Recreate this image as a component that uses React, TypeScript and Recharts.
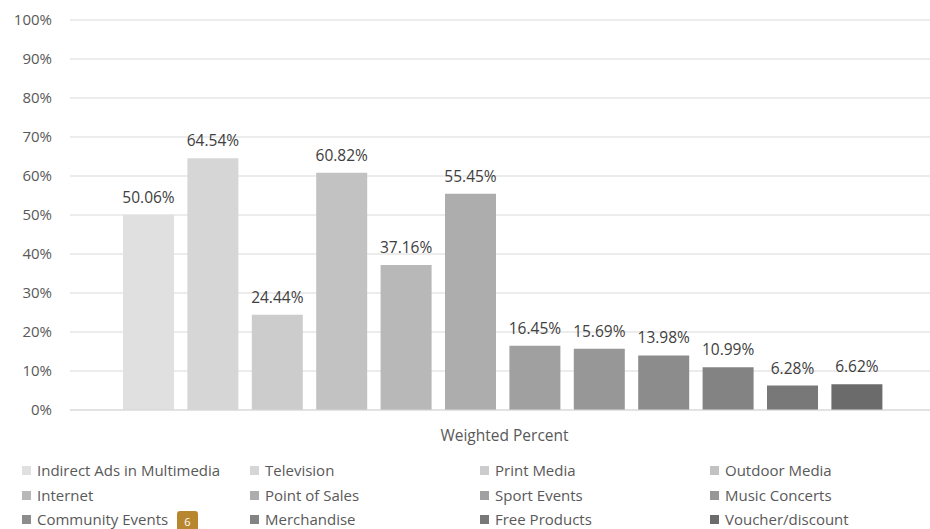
import { Bar, BarChart, CartesianGrid, LabelList, XAxis, YAxis } from "recharts";

const CATEGORIES = ["Weighted Percent"];

const SERIES_NAMES = [
  "Indirect Ads in Multimedia",
  "Television",
  "Print Media",
  "Outdoor Media",
  "Internet",
  "Point of Sales",
  "Sport Events",
  "Music Concerts",
  "Community Events",
  "Merchandise",
  "Free Products",
  "Voucher/discount",
];

const SERIES_VALUES = [50.06, 64.54, 24.44, 60.82, 37.16, 55.45, 16.45, 15.69, 13.98, 10.99, 6.28, 6.62];

const SERIES_COLORS = [
  "#e0e0e0",
  "#d6d6d6",
  "#cccccc",
  "#c2c2c2",
  "#b8b8b8",
  "#adadad",
  "#a0a0a0",
  "#979797",
  "#8c8c8c",
  "#838383",
  "#787878",
  "#6b6b6b",
];

const Y_TICKS = [0, 10, 20, 30, 40, 50, 60, 70, 80, 90, 100];

// legend is laid out like Excel's: 4 fixed columns, 3 rows
const LEGEND_COLS = [22, 250, 480, 710];
const LEGEND_ROWS = [470, 495, 519];

const FONT = "'Open Sans', sans-serif";
const TEXT = "#595959";

export default function App() {
  const data = CATEGORIES.map((c) => {
    const row: Record<string, string | number> = { name: c };
    SERIES_NAMES.forEach((s, i) => {
      row[s] = SERIES_VALUES[i];
    });
    return row;
  });

  return (
    <div
      style={{
        position: "fixed",
        left: 0,
        top: 0,
        width: 930,
        height: 529,
        background: "#fff",
        fontFamily: FONT,
        overflow: "hidden",
      }}
    >
      {/* the source image is cropped on the right, so the plot runs past the edge */}
      <BarChart
        width={930}
        height={529}
        data={data}
        margin={{ top: 20, right: -9, left: 0, bottom: 89 }}
        barCategoryGap={53}
        barGap={13.4}
      >
        <CartesianGrid vertical={false} stroke="#d9d9d9" strokeWidth={1} />
        <XAxis
          dataKey="name"
          height={30}
          tickLine={false}
          axisLine={{ stroke: "#d9d9d9" }}
          tickMargin={14}
          tick={{ fill: TEXT, fontSize: 15.5, fontFamily: FONT }}
        />
        <YAxis
          width={70}
          domain={[0, 100]}
          ticks={Y_TICKS}
          interval={0}
          tickLine={false}
          axisLine={false}
          tickMargin={12}
          tickFormatter={(v: number) => `${v}%`}
          tick={{ fill: TEXT, fontSize: 15, fontFamily: FONT }}
        />
        {SERIES_NAMES.map((s, i) => (
          <Bar key={s} dataKey={s} fill={SERIES_COLORS[i]} isAnimationActive={false}>
            <LabelList
              dataKey={s}
              position="top"
              offset={12}
              formatter={(v: number) => `${v.toFixed(2)}%`}
              style={{ fill: "#404040", fontSize: 15.5, fontFamily: FONT }}
            />
          </Bar>
        ))}
      </BarChart>

      {SERIES_NAMES.map((s, i) => {
        const col = i % 4;
        const row = Math.floor(i / 4);
        return (
          <div
            key={s}
            style={{
              position: "absolute",
              left: LEGEND_COLS[col],
              top: LEGEND_ROWS[row] - 10,
              height: 20,
              display: "flex",
              alignItems: "center",
              gap: 6,
              fontSize: 15,
              lineHeight: "20px",
              color: TEXT,
              whiteSpace: "nowrap",
            }}
          >
            <span style={{ width: 9, height: 9, background: SERIES_COLORS[i], display: "inline-block" }} />
            <span>{s}</span>
          </div>
        );
      })}

      {/* page-number badge that sits on the source page */}
      <div
        style={{
          position: "absolute",
          left: 177,
          top: 511,
          width: 21,
          height: 18,
          borderRadius: "3px 3px 0 0",
          background: "#b8862f",
          color: "#fff",
          fontSize: 11,
          textAlign: "center",
          lineHeight: "12px",
          paddingTop: 5,
          boxSizing: "border-box",
        }}
      >
        6
      </div>
    </div>
  );
}
